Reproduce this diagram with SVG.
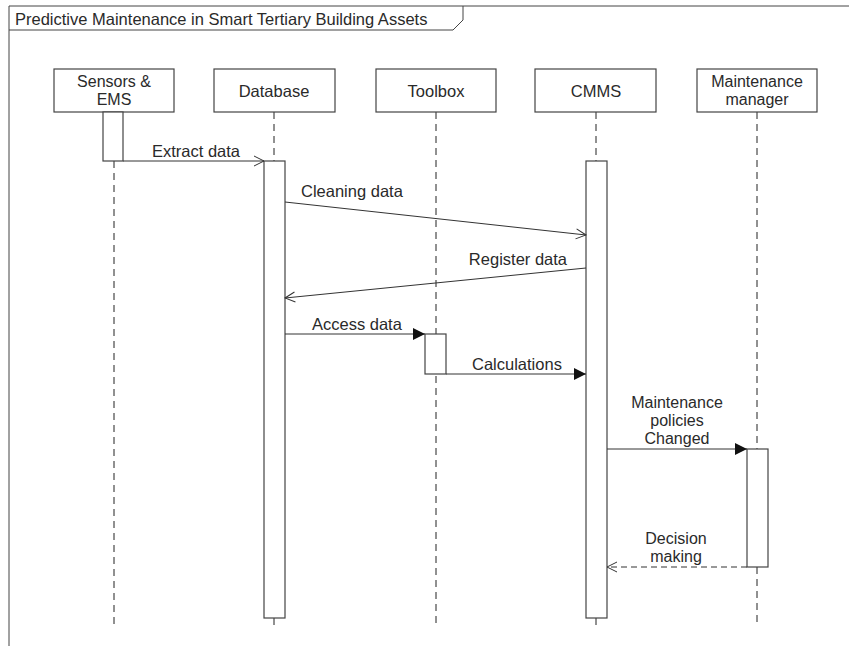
<svg xmlns="http://www.w3.org/2000/svg" width="849" height="646" viewBox="0 0 849 646">
  <style>
    .frame { fill: none; stroke: #444; stroke-width: 1; }
    .box { fill: #fff; stroke: #444; stroke-width: 1.2; }
    .act { fill: #fff; stroke: #444; stroke-width: 1.2; }
    .life { fill: none; stroke: #222; stroke-width: 1; stroke-dasharray: 7 5; }
    .msg { fill: none; stroke: #333; stroke-width: 1; }
    .ret { fill: none; stroke: #333; stroke-width: 1; stroke-dasharray: 6 4; }
    text { font-family: "Liberation Sans", Arial, sans-serif; font-size: 16.5px; fill: #2a2a2a; }
    .m { font-size: 16px; }
    .c { text-anchor: middle; }
    .e { text-anchor: end; }
  </style>
  <defs>
    <marker id="open" viewBox="0 0 12 12" refX="11" refY="6" markerWidth="12" markerHeight="12" markerUnits="userSpaceOnUse" orient="auto">
      <path d="M1,1 L11,6 L1,11" fill="none" stroke="#333" stroke-width="1"/>
    </marker>
    <marker id="solid" viewBox="0 0 12 12" refX="12" refY="6" markerWidth="12" markerHeight="12" markerUnits="userSpaceOnUse" orient="auto">
      <path d="M0,0 L12,6 L0,12 Z" fill="#111"/>
    </marker>
  </defs>
  <rect width="849" height="646" fill="#fff"/>

  <!-- frame and title tab -->
  <g id="frame">
    <path class="frame" d="M9,646 L9,6 L849,6"/>
    <path class="frame" d="M9,30 L453,30 L463,20 L463,6"/>
    <text x="15" y="25">Predictive Maintenance in Smart Tertiary Building Assets</text>
  </g>

  <!-- lifelines -->
  <g id="lifelines">
    <line class="life" x1="114" y1="161" x2="114" y2="625"/>
    <line class="life" x1="274" y1="112" x2="274" y2="161"/>
    <line class="life" x1="274" y1="618" x2="274" y2="626"/>
    <line class="life" x1="436" y1="112" x2="436" y2="625"/>
    <line class="life" x1="596" y1="112" x2="596" y2="161"/>
    <line class="life" x1="596" y1="618" x2="596" y2="626"/>
    <line class="life" x1="757" y1="112" x2="757" y2="449"/>
    <line class="life" x1="757" y1="567" x2="757" y2="625"/>
  </g>

  <g id="sensors">
    <rect class="box" x="54" y="69" width="120" height="43"/>
    <text class="c m" x="114" y="87">Sensors &amp;</text>
    <text class="c m" x="114" y="105">EMS</text>
    <rect class="act" x="103" y="112" width="20" height="49"/>
  </g>
  <g id="database">
    <rect class="box" x="214" y="69" width="121" height="43"/>
    <text class="c" x="274" y="97">Database</text>
    <rect class="act" x="264" y="161" width="21" height="457"/>
  </g>
  <g id="toolbox">
    <rect class="box" x="376" y="69" width="120" height="43"/>
    <text class="c" x="436" y="97">Toolbox</text>
    <rect class="act" x="425" y="334" width="21" height="40"/>
  </g>
  <g id="cmms">
    <rect class="box" x="535" y="69" width="121" height="43"/>
    <text class="c" x="596" y="97">CMMS</text>
    <rect class="act" x="586" y="161" width="21" height="457"/>
  </g>
  <g id="manager">
    <rect class="box" x="697" y="69" width="120" height="43"/>
    <text class="c m" x="757" y="87">Maintenance</text>
    <text class="c m" x="757" y="105">manager</text>
    <rect class="act" x="747" y="449" width="21" height="118"/>
  </g>

  <!-- messages -->
  <g id="connectors">
    <line class="msg" x1="123" y1="161" x2="264" y2="161" marker-end="url(#open)"/>
    <line class="msg" x1="285" y1="202" x2="586" y2="235" marker-end="url(#open)"/>
    <line class="msg" x1="586" y1="268" x2="285" y2="298" marker-end="url(#open)"/>
    <line class="msg" x1="285" y1="334" x2="425" y2="334" marker-end="url(#solid)"/>
    <line class="msg" x1="446" y1="374" x2="586" y2="374" marker-end="url(#solid)"/>
    <line class="msg" x1="607" y1="449" x2="747" y2="449" marker-end="url(#solid)"/>
    <line class="ret" x1="747" y1="567" x2="607" y2="567" marker-end="url(#open)"/>
  </g>

  <g id="labels">
    <text x="152" y="157">Extract data</text>
    <text x="301" y="197">Cleaning data</text>
    <text class="e" x="567" y="265">Register data</text>
    <text x="312" y="330">Access data</text>
    <text x="472" y="370">Calculations</text>
    <text class="c m" x="677" y="408">Maintenance</text>
    <text class="c m" x="677" y="426">policies</text>
    <text class="c m" x="677" y="444">Changed</text>
    <text class="c m" x="676" y="544">Decision</text>
    <text class="c m" x="676" y="562">making</text>
  </g>
</svg>
